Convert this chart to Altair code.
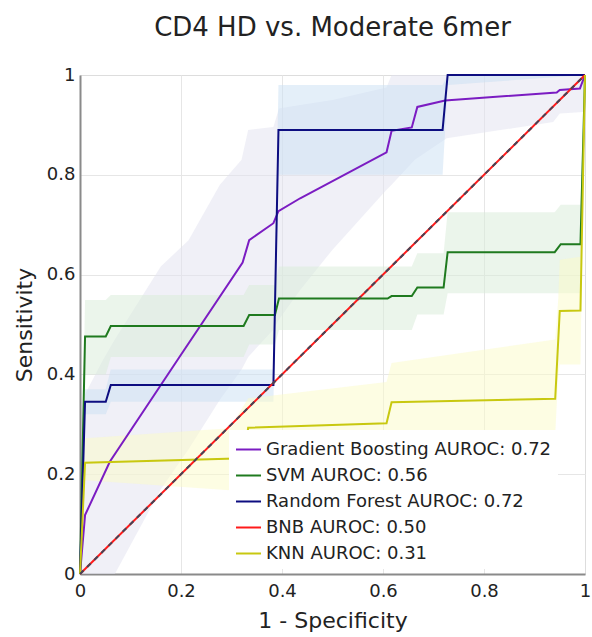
import altair as alt
import pandas as pd

# ---------------- data ----------------
model_names = [
    "Gradient Boosting AUROC: 0.72",
    "SVM AUROC: 0.56",
    "Random Forest AUROC: 0.72",
    "BNB AUROC: 0.50",
    "KNN AUROC: 0.31",
]
line_colors = ["#7b1cc2", "#1f7a1f", "#0d0d80", "#ff1a1a", "#c8c810"]
band_colors = ["#e1e1ef", "#d7ebd7", "#c9dff3", "#ffffff", "#fbfbc7"]

gb_fpr = [0, 0.01, 0.059, 0.195, 0.322, 0.335, 0.383, 0.393, 0.436, 0.607, 0.617, 0.657, 0.668, 0.723, 0.944, 0.95, 0.99, 1]
gb_tpr = [0, 0.118, 0.225, 0.432, 0.624, 0.669, 0.703, 0.727, 0.753, 0.845, 0.888, 0.895, 0.936, 0.949, 0.965, 0.97, 0.973, 1]

svm_fpr = [0, 0.01, 0.051, 0.061, 0.324, 0.335, 0.386, 0.394, 0.609, 0.617, 0.657, 0.668, 0.72, 0.728, 0.94, 0.952, 0.991, 1]
svm_tpr = [0, 0.476, 0.476, 0.497, 0.497, 0.519, 0.519, 0.552, 0.552, 0.557, 0.557, 0.574, 0.574, 0.645, 0.645, 0.661, 0.661, 1]

rf_fpr = [0, 0.01, 0.051, 0.061, 0.383, 0.393, 0.718, 0.728, 1]
rf_tpr = [0, 0.345, 0.345, 0.379, 0.379, 0.89, 0.89, 1, 1]

bnb_fpr = [0, 1]
bnb_tpr = [0, 1]

knn_fpr = [0, 0.01, 0.325, 0.333, 0.607, 0.617, 0.941, 0.95, 0.991, 1]
knn_tpr = [0, 0.223, 0.232, 0.293, 0.302, 0.344, 0.351, 0.527, 0.528, 1]

# confidence bands (fpr, lower, upper)
gb_band_fpr = [0, 0.01, 0.046, 0.069, 0.16, 0.215, 0.277, 0.32, 0.333, 0.383, 0.394, 0.436, 0.5, 0.607, 0.617, 0.663, 0.726, 0.937, 0.95, 0.996, 1]
gb_band_lo = [0, 0, 0, 0, 0.17, 0.25, 0.349, 0.41, 0.435, 0.49, 0.51, 0.569, 0.65, 0.77, 0.78, 0.83, 0.873, 0.906, 0.923, 0.926, 1]
gb_band_hi = [0, 0.36, 0.43, 0.47, 0.616, 0.669, 0.78, 0.83, 0.89, 0.896, 0.933, 0.94, 0.95, 0.975, 1, 1, 1, 1, 1, 1, 1]

svm_band_fpr = [0, 0.01, 0.051, 0.061, 0.324, 0.335, 0.386, 0.394, 0.657, 0.668, 0.72, 0.728, 0.94, 0.952, 0.991, 1]
svm_band_lo = [0, 0.40, 0.40, 0.435, 0.435, 0.46, 0.46, 0.489, 0.489, 0.52, 0.52, 0.5625, 0.5625, 0.5625, 0.5625, 1]
svm_band_hi = [0, 0.549, 0.549, 0.559, 0.559, 0.579, 0.579, 0.616, 0.616, 0.643, 0.643, 0.725, 0.725, 0.74, 0.74, 1]

rf_band_fpr = [0, 0.01, 0.051, 0.061, 0.383, 0.393, 0.718, 0.728, 1]
rf_band_lo = [0, 0.32, 0.32, 0.345, 0.345, 0.80, 0.80, 0.98, 1]
rf_band_hi = [0, 0.37, 0.37, 0.41, 0.41, 0.98, 0.98, 1, 1]

knn_band_fpr = [0, 0.01, 0.297, 0.333, 0.607, 0.617, 0.941, 0.947, 0.95, 0.991, 1]
knn_band_lo = [0, 0.188, 0.168, 0.24, 0.25, 0.28, 0.28, 0.40, 0.42, 0.42, 1]
knn_band_hi = [0, 0.272, 0.292, 0.352, 0.385, 0.423, 0.47, 0.55, 0.63, 0.636, 1]

chance_fpr = [0, 1]
chance_tpr = [0, 1]

tick_vals = [0, 0.2, 0.4, 0.6, 0.8, 1]

# ---------------- tables ----------------
curves = [(gb_fpr, gb_tpr), (svm_fpr, svm_tpr), (rf_fpr, rf_tpr), (bnb_fpr, bnb_tpr), (knn_fpr, knn_tpr)]
rows = []
for k, (name, (fx, ty)) in enumerate(zip(model_names, curves)):
    for i, (a, b) in enumerate(zip(fx, ty)):
        rows.append({"model": name, "fpr": a, "tpr": b, "idx": k * 100 + i})
lines_df = pd.DataFrame(rows)

bands = [
    (0, gb_band_fpr, gb_band_lo, gb_band_hi),
    (1, svm_band_fpr, svm_band_lo, svm_band_hi),
    (2, rf_band_fpr, rf_band_lo, rf_band_hi),
    (4, knn_band_fpr, knn_band_lo, knn_band_hi),
]

chance_df = pd.DataFrame({"fpr": chance_fpr, "tpr": chance_tpr})

FONT = "DejaVu Sans"
TXT = "#222222"

grid_color = {"condition": {"test": "datum.value >= 1", "value": "transparent"}, "value": "#e6e6e6"}

x_axis = alt.Axis(values=tick_vals, format="~g", ticks=False, grid=True, gridColor=grid_color,
                  domainColor="#8a8a8a", domainWidth=2, labelFontSize=18, labelFont=FONT,
                  labelColor=TXT, labelPadding=8, labelFlush=False, title="1 - Specificity",
                  titleFontSize=22, titleFont=FONT, titleFontWeight="normal", titleColor=TXT,
                  titlePadding=10)
y_axis = alt.Axis(values=tick_vals, format="~g", ticks=False, grid=True, gridColor=grid_color,
                  domainColor="#8a8a8a", domainWidth=2, labelFontSize=18, labelFont=FONT,
                  labelColor=TXT, labelPadding=5, labelFlush=False, title="Sensitivity",
                  titleFontSize=22, titleFont=FONT, titleFontWeight="normal", titleColor=TXT,
                  titlePadding=10)

xs = alt.Scale(domain=[0, 1], nice=False, zero=False)
ys = alt.Scale(domain=[0, 1], nice=False, zero=False)

layers = []
for k, bf, lo, hi in bands:
    bdf = pd.DataFrame({"fpr": bf, "lo": lo, "hi": hi})
    layers.append(
        alt.Chart(bdf).mark_area(color=band_colors[k], opacity=0.5, interpolate="linear").encode(
            x=alt.X("fpr:Q", scale=xs, axis=x_axis),
            y=alt.Y("hi:Q", scale=ys, axis=y_axis),
            y2="lo:Q",
        )
    )

lines = alt.Chart(lines_df).mark_line(strokeWidth=2).encode(
    x=alt.X("fpr:Q", scale=xs, axis=x_axis),
    y=alt.Y("tpr:Q", scale=ys, axis=y_axis),
    color=alt.Color("model:N", scale=alt.Scale(domain=model_names, range=line_colors),
                    sort=model_names,
                    legend=alt.Legend(orient="none", legendX=149, legendY=355, title=None,
                                      fillColor="white", padding=6, symbolType="stroke",
                                      symbolSize=625, symbolStrokeWidth=2, labelFontSize=18,
                                      labelFont=FONT, labelColor=TXT, labelLimit=500,
                                      rowPadding=3, labelOffset=4)),
    order="idx:Q",
)
layers.append(lines)

chance = alt.Chart(chance_df).mark_line(color="#444455", strokeWidth=2, strokeDash=[5, 5]).encode(
    x=alt.X("fpr:Q", scale=xs, axis=x_axis),
    y=alt.Y("tpr:Q", scale=ys, axis=y_axis),
)
layers.append(chance)

chart = alt.layer(*layers).properties(
    width=505,
    height=499,
    autosize=alt.AutoSizeParams(type="none"),
    padding={"left": 80, "top": 75, "right": 7, "bottom": 63},
    title=alt.TitleParams("CD4 HD vs. Moderate 6mer", fontSize=26, font=FONT, fontWeight="normal",
                          color=TXT, anchor="middle", baseline="alphabetic", offset=4),
).configure_view(stroke=None).configure(background="white")

chart.save("out.html", embed_options={"renderer": "svg", "actions": False})
